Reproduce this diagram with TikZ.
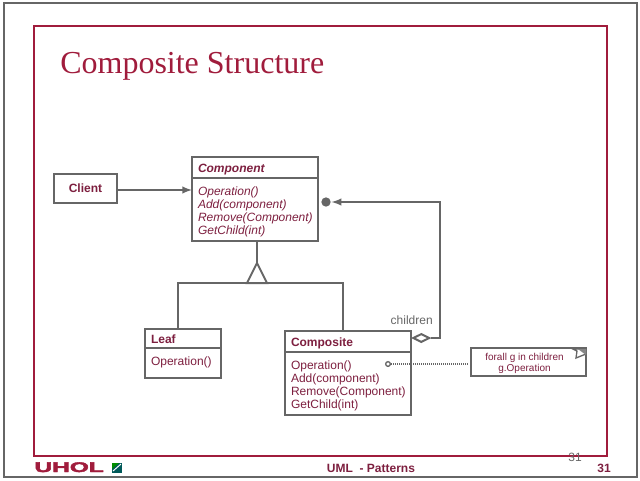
\documentclass[tikz,border=0pt]{standalone}
\usepackage{fontspec}
\setmainfont{Liberation Serif}
\setsansfont{Liberation Sans}
\newfontfamily\logofont[FakeBold=2.5]{Liberation Sans Bold}
\usetikzlibrary{positioning,shapes.geometric}
\definecolor{umlgray}{HTML}{666666}
\definecolor{umlred}{HTML}{A01C3C}
\definecolor{umltext}{HTML}{7D1F3F}
\tikzset{
classbox/.style={draw=umlgray,line width=1.5pt,outer sep=0pt,inner xsep=4.5pt,inner ysep=0pt,anchor=north west,align=left,text=umltext,font=\sffamily\fontsize{9}{9.75}\selectfont},
headbox/.style={classbox,text height=7pt,text depth=0pt,font=\sffamily\bfseries\fontsize{9}{9.75}\selectfont},
bodybox/.style={classbox,execute at begin node=\rule{0pt}{10pt}},
link/.style={draw=umlgray,line width=1.5pt}
}
\begin{document}
\begin{tikzpicture}[x=0.75pt,y=-0.75pt]
\useasboundingbox(0,0)rectangle(640,480);
\draw[umlgray,line width=1.5pt](4,3)rectangle(637,477);
\draw[umlred,line width=1.5pt](33.5,25.5)rectangle(607,456);
\node[anchor=base west,inner sep=0pt,text=umlred,font=\fontsize{24}{24}\selectfont](title)at(60,73){Composite Structure};
% classes
\node[headbox,text width=85.5pt,minimum height=15.75pt](comphead)at(192,157){\itshape Component};
\node[bodybox,text width=85.5pt,minimum height=47.25pt,anchor=north,font=\sffamily\itshape\fontsize{9}{9.75}\selectfont,below=0pt of comphead](compbody){Operation()\\Add(component)\\Remove(Component)\\GetChild(int)};
\node[classbox,align=center,minimum width=47.25pt,minimum height=21.75pt,anchor=center](client)at(85.5,188.5){\bfseries Client};
\node[headbox,text width=48pt,minimum height=14.25pt](leafhead)at(145,329){Leaf};
\node[classbox,text width=48pt,minimum height=22.5pt,text depth=3.5pt,below=0pt of leafhead](leafbody){Operation()};
\node[headbox,text width=85.5pt,minimum height=15.75pt](cmpsthead)at(285,331){Composite};
\node[bodybox,text width=85.5pt,minimum height=47.25pt,below=0pt of cmpsthead](cmpstbody){Operation()\\Add(component)\\Remove(Component)\\GetChild(int)};
% note
\node[classbox,minimum width=86.25pt,minimum height=21pt,inner xsep=0pt,anchor=north west,align=center,font=\sffamily\fontsize{7.5}{8.25}\selectfont](note)at(471,348){\rule{0pt}{7pt}forall g in children\hspace*{6pt}\\g.Operation\hspace*{6pt}};
\draw[umlgray,line width=1pt,fill=white](573,349)--(577,351)--(576,358)--(586,354)--(586,349)--cycle;
\fill[umlgray!80](578,349)--(586,349)--(586,355)--cycle;
% connectors
\coordinate(clientin)at(85.5,190);
\draw[link,-latex](clientin-|client.east)--(clientin-|compbody.west);
\coordinate(apex)at(257,263);
\coordinate(busleft)at(178,283);
\coordinate(busright)at(343,283);
\draw[link](apex|-compbody.south)--(apex);
\draw[link,line join=miter](apex)--(247,283)--(267,283)--cycle;
\draw[link](leafhead.north-|busleft)--(busleft)--(busright)--(cmpsthead.north-|busright);
\node[draw=umlgray,line width=1.5pt,fill=white,shape=diamond,shape aspect=2.2,inner sep=0pt,minimum width=12.5pt,minimum height=6.5pt,anchor=west](aggr)at(412,338){};
\node[fill=umlgray,shape=circle,inner sep=0pt,minimum size=7pt](dot)at(326,202){};
\coordinate(turn)at(440,338);
\draw[link,-latex,shorten >=0.5pt](aggr.east)--(turn)--(turn|-dot)--(dot.east);
\node[draw=umlgray,line width=1pt,fill=white,shape=circle,inner sep=0pt,minimum size=3.5pt](opdot)at(388,364){};
\draw[umlgray,line width=1pt,dash pattern=on 0.8pt off 0.7pt,shorten >=2pt](opdot.east)--(opdot.east-|note.west);
% labels
\node[anchor=base east,inner sep=0pt,text=umlgray,font=\sffamily\fontsize{9}{9}\selectfont](children)at(433,324){children};
\node[anchor=base,inner sep=0pt,text=umltext,font=\sffamily\bfseries\fontsize{9}{9}\selectfont](umlname)at(371,472){UML\ \ - Patterns};
\node[anchor=base east,inner sep=0pt,text=umlgray,font=\sffamily\fontsize{9}{9}\selectfont](pagegray)at(582,461){31};
\node[anchor=base east,inner sep=0pt,text=umltext,font=\sffamily\bfseries\fontsize{9}{9}\selectfont](pagered)at(611,472){31};
% logo
\node[anchor=base west,inner sep=0pt,text=umlred,xscale=1.75,font=\logofont\fontsize{10.5}{10.5}\selectfont](logo)at(34,472){UHOL};
\fill[teal!70!black](112,463)rectangle(122,473);
\fill[green!55!black](112,463)--(119,463)--(112,469)--cycle;
\draw[white,line width=0.7pt](113,471)--(121,464);
\end{tikzpicture}
\end{document}
